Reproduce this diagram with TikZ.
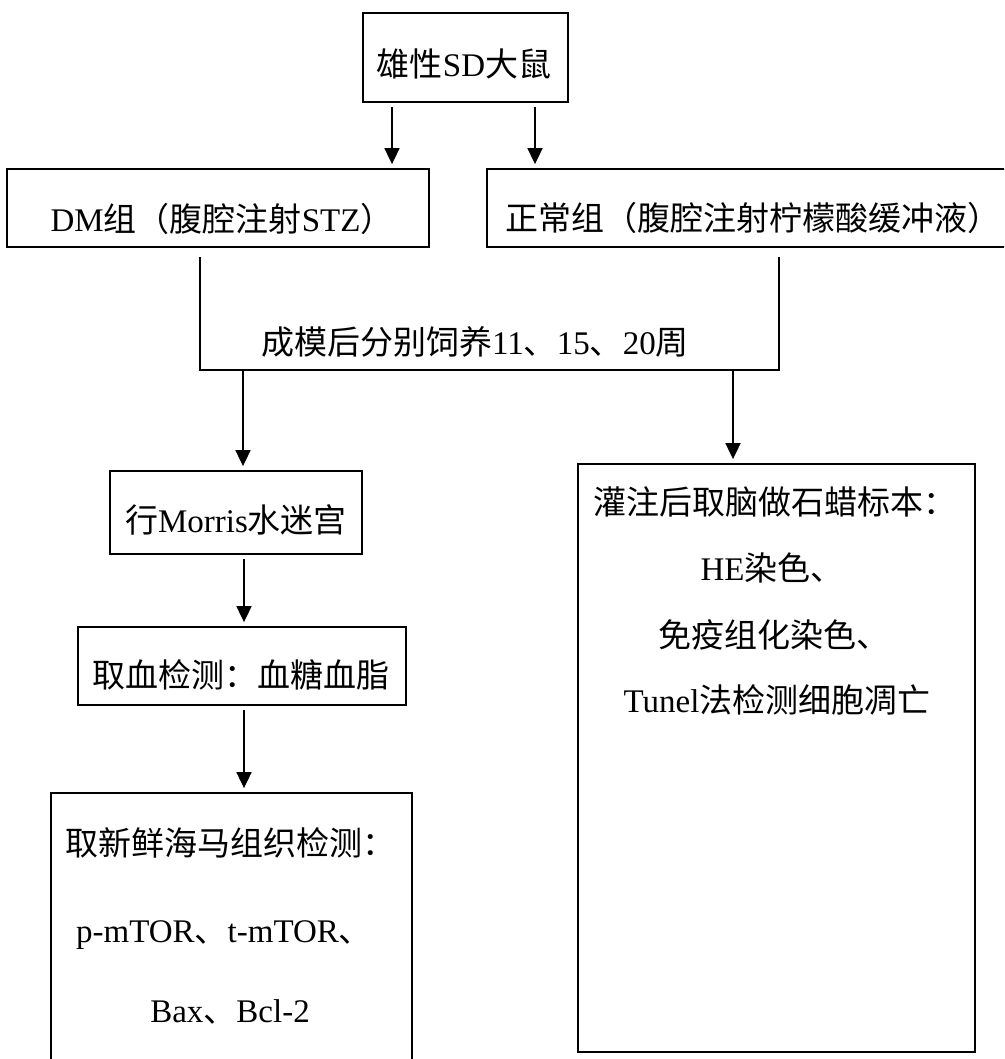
\documentclass[tikz,border=0pt]{standalone}
\usepackage{fontspec}
\setmainfont{Liberation Serif}
\newfontfamily\cjk{Noto Sans CJK SC}
\usetikzlibrary{arrows.meta}
\begin{document}
\begin{tikzpicture}[x=1pt,y=-1pt,
  box/.style={draw,line width=1.8pt,inner sep=0pt,rectangle},
  txt/.style={inner sep=0pt,anchor=base,font=\fontsize{33}{40}\selectfont},
  arr/.style={line width=1.8pt,-{Triangle[width=15pt,length=16pt]},shorten <=4pt,shorten >=4pt},
  ln/.style={line width=1.8pt}]
\useasboundingbox (0,0) rectangle (1004,1059);
\clip (0,0) rectangle (1004,1059);
% boxes
\node[box,minimum width=205pt,minimum height=89pt] (top) at (465.5,57.5) {};
\node[box,minimum width=422pt,minimum height=78pt] (dm) at (218,208) {};
\node[box,minimum width=523pt,minimum height=78pt] (nm) at (748.5,208) {};
\node[box,minimum width=252pt,minimum height=83pt] (mo) at (236,512.5) {};
\node[box,minimum width=328pt,minimum height=78pt] (bl) at (242,666) {};
\node[box,minimum width=361pt,minimum height=287pt] (lb) at (231.5,936.5) {};
\node[box,minimum width=397pt,minimum height=588pt] (rb) at (776.5,758) {};
% texts
\node[txt] (ttop) at (464,77) {{\cjk 雄性}SD{\cjk 大鼠}};
\node[txt] (tdm) at (222,232) {DM{\cjk 组（腹腔注射}STZ{\cjk ）}};
\node[txt] (tnm) at (753,231) {{\cjk 正常组（腹腔注射柠檬酸缓冲液）}};
\node[txt] (tbr) at (475,354) {{\cjk 成模后分别饲养}11{\cjk 、}15{\cjk 、}20{\cjk 周}};
\node[txt] (tmo) at (236,532) {{\cjk 行}Morris{\cjk 水迷宫}};
\node[txt] (tbl) at (241,687) {{\cjk 取血检测：血糖血脂}};
\node[txt] (l1) at (230,855) {{\cjk 取新鲜海马组织检测：}};
\node[txt] (l2) at (224,942) {p-mTOR{\cjk 、}t-mTOR{\cjk 、}};
\node[txt] (l3) at (230,1022) {Bax{\cjk 、}Bcl-2};
\node[txt] (r1) at (775,514) {{\cjk 灌注后取脑做石蜡标本：}};
\node[txt] (r2) at (772,580) {HE{\cjk 染色、}};
\node[txt] (r3) at (774,647) {{\cjk 免疫组化染色、}};
\node[txt] (r4) at (777,712) {Tunel{\cjk 法检测细胞凋亡}};
% bracket
\coordinate (brTL) at (200,257);
\coordinate (brBL) at (200,370);
\coordinate (brBR) at (779,370);
\coordinate (brTR) at (779,257);
\draw[ln] (brTL) -- (brBL) -- (brBR) -- (brTR);
% arrow columns
\coordinate (a1) at (392,0);
\coordinate (a2) at (535,0);
\coordinate (b1) at (243,370);
\coordinate (b2) at (733,370);
\coordinate (c1) at (244,0);
\draw[arr] (top.south -| a1) -- (dm.north -| a1);
\draw[arr] (top.south -| a2) -- (nm.north -| a2);
\draw[arr,shorten <=0pt] (b1) -- (mo.north -| b1);
\draw[arr,shorten <=0pt] (b2) -- (rb.north -| b2);
\draw[arr] (mo.south -| c1) -- (bl.north -| c1);
\draw[arr] (bl.south -| c1) -- (lb.north -| c1);
\end{tikzpicture}
\end{document}
